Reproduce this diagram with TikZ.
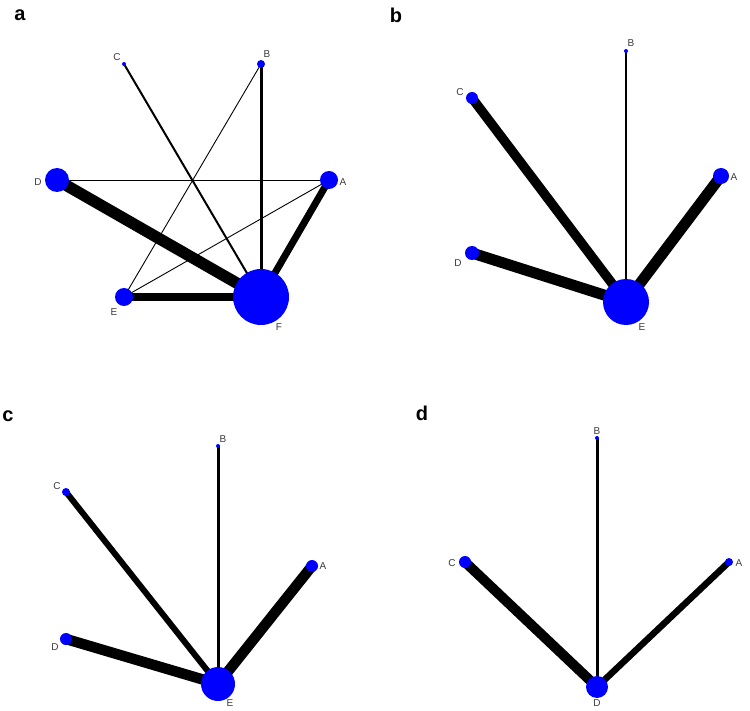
\documentclass[tikz,border=0pt]{standalone}
\usepackage{fontspec}
\setmainfont{Liberation Sans}
\pgfdeclarelayer{edges}
\pgfsetlayers{edges,main}
\definecolor{nodeblue}{RGB}{0,0,255}
\definecolor{lblgray}{RGB}{60,60,60}
\begin{document}
\begin{tikzpicture}[x=1pt,y=-1pt,
  vtx/.style={circle,fill=nodeblue,draw=none,inner sep=0pt,minimum size=#1},
  lbl/.style={font=\fontsize{10}{10}\selectfont,text=lblgray,inner sep=0pt},
  panel/.style={font=\fontsize{20}{20}\selectfont\bfseries,inner sep=0pt},
  edge/.style={draw=black,line width=#1}]
\useasboundingbox (0,0) rectangle (750,711);
\begin{pgfonlayer}{edges}
\fill[white] (0,0) rectangle (750,711);
\end{pgfonlayer}

% ---------- panel a ----------
\node[panel] (pa) at (20,15) {a};
\node[vtx=4pt]  (aC) at (124,64) {};
\node[vtx=8pt]  (aB) at (261,64) {};
\node[vtx=24pt] (aD) at (57,180) {};
\node[vtx=18pt] (aA) at (329,180) {};
\node[vtx=18pt] (aE) at (124,297) {};
\node[vtx=56pt] (aF) at (261,297) {};
\node[lbl] (aCl) at (117,57) {C};
\node[lbl] (aBl) at (267,54) {B};
\node[lbl] (aDl) at (38,182) {D};
\node[lbl] (aAl) at (343,182) {A};
\node[lbl] (aEl) at (114,312) {E};
\node[lbl] (aFl) at (279,327) {F};
\begin{pgfonlayer}{edges}
\draw[edge=2pt] (aC.center) -- (aF.center);
\draw[edge=3pt] (aB.center) -- (aF.center);
\draw[edge=0.9pt] (aB.center) -- (aE.center);
\draw[edge=0.9pt] (aD.center) -- (aA.center);
\draw[edge=0.9pt] (aA.center) -- (aE.center);
\draw[edge=11.5pt] (aD.center) -- (aF.center);
\draw[edge=7pt] (aA.center) -- (aF.center);
\draw[edge=7.5pt] (aE.center) -- (aF.center);
\end{pgfonlayer}

% ---------- panel b ----------
\node[panel] (pb) at (396,15) {b};
\node[vtx=4pt]  (bB) at (626,51) {};
\node[vtx=12pt] (bC) at (472,98) {};
\node[vtx=16pt] (bA) at (721,176) {};
\node[vtx=14pt] (bD) at (472,253) {};
\node[vtx=46pt] (bE) at (626,302) {};
\node[lbl] (bBl) at (631,43) {B};
\node[lbl] (bCl) at (460,92) {C};
\node[lbl] (bAl) at (734,177) {A};
\node[lbl] (bDl) at (458,263) {D};
\node[lbl] (bEl) at (642,327) {E};
\begin{pgfonlayer}{edges}
\draw[edge=1.3pt] (bB.center) -- (bE.center);
\draw[edge=9.5pt] (bC.center) -- (bE.center);
\draw[edge=11pt] (bA.center) -- (bE.center);
\draw[edge=11pt] (bD.center) -- (bE.center);
\end{pgfonlayer}

% ---------- panel c ----------
\node[panel] (pc) at (8,416) {c};
\node[vtx=4pt]  (cB) at (218,446) {};
\node[vtx=8pt]  (cC) at (66,492) {};
\node[vtx=12pt] (cA) at (312,566) {};
\node[vtx=12pt] (cD) at (66,639) {};
\node[vtx=34pt] (cE) at (218,684) {};
\node[lbl] (cBl) at (223,439) {B};
\node[lbl] (cCl) at (57,486) {C};
\node[lbl] (cAl) at (323,566) {A};
\node[lbl] (cDl) at (55,647) {D};
\node[lbl] (cEl) at (230,703) {E};
\begin{pgfonlayer}{edges}
\draw[edge=3pt] (cB.center) -- (cE.center);
\draw[edge=6pt] (cC.center) -- (cE.center);
\draw[edge=10.5pt] (cA.center) -- (cE.center);
\draw[edge=10.5pt] (cD.center) -- (cE.center);
\end{pgfonlayer}

% ---------- panel d ----------
\node[panel] (pd) at (422,413) {d};
\node[vtx=4pt]  (dB) at (597,438) {};
\node[vtx=12pt] (dC) at (465,562) {};
\node[vtx=8pt]  (dA) at (729,562) {};
\node[vtx=22pt] (dD) at (597,687) {};
\node[lbl] (dBl) at (597,431) {B};
\node[lbl] (dCl) at (452,563) {C};
\node[lbl] (dAl) at (739,563) {A};
\node[lbl] (dDl) at (597,703) {D};
\begin{pgfonlayer}{edges}
\draw[edge=3pt] (dB.center) -- (dD.center);
\draw[edge=10pt] (dC.center) -- (dD.center);
\draw[edge=6.5pt] (dA.center) -- (dD.center);
\end{pgfonlayer}
\end{tikzpicture}
\end{document}
